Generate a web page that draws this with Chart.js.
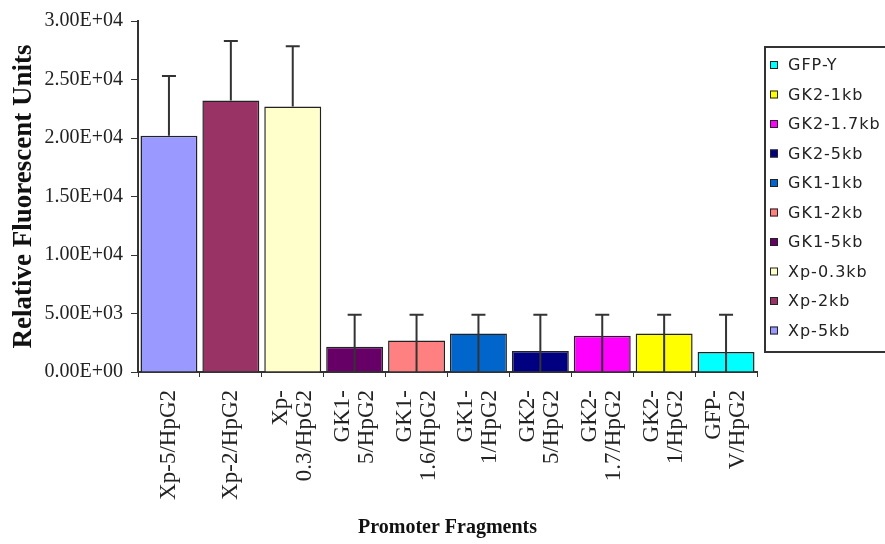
<!DOCTYPE html>
<html lang="en">
<head>
<meta charset="UTF-8">
<title>Promoter Fragments</title>
<script src="https://cdn.jsdelivr.net/npm/chart.js"></script>
<style>
  html, body { margin: 0; padding: 0; background: #fff; }
  #wrap { width: 885px; height: 544px; }
</style>
</head>
<body>
<div id="wrap"><canvas id="chart" width="885" height="544"></canvas></div>
<script>
// Data
const categories = [
    ['Xp-5/HpG2'], ['Xp-2/HpG2'], ['Xp-', '0.3/HpG2'], ['GK1-', '5/HpG2'], ['GK1-', '1.6/HpG2'],
    ['GK1-', '1/HpG2'], ['GK2-', '5/HpG2'], ['GK2-', '1.7/HpG2'], ['GK2-', '1/HpG2'], ['GFP-', 'V/HpG2']
];
const seriesNames = ['Xp-5kb', 'Xp-2kb', 'Xp-0.3kb', 'GK1-5kb', 'GK1-2kb', 'GK1-1kb', 'GK2-5kb', 'GK2-1.7kb', 'GK2-1kb', 'GFP-Y'];
const means = [20200, 23200, 22700, 2150, 2700, 3300, 1800, 3100, 3300, 1700];
const errPlus = [5100, 5100, 5150, 2750, 2200, 1600, 3100, 1800, 1600, 3200];
const errMinus = [0, 0, 0, 2150, 2700, 3300, 1800, 3100, 3300, 1700];
const yTicks = [0, 5000, 10000, 15000, 20000, 25000, 30000];

const barColors = ['#9999FF', '#993366', '#FFFFCC', '#660066', '#FF8080', '#0066CC', '#000080', '#FF00FF', '#FFFF00', '#00FFFF'];
const serif = '"Liberation Serif", "Times New Roman", serif';

// 3.00E+04 style
function sci(v) {
    if (v === 0) return '0.00E+00';
    const e = Math.floor(Math.log10(Math.abs(v)));
    const m = v / Math.pow(10, e);
    return m.toFixed(2) + 'E' + (e < 0 ? '-' : '+') + String(Math.abs(e)).padStart(2, '0');
}

// two-line rotated labels: centre the pair of lines on the tick
const centerLines = {
    id: 'centerLines',
    beforeDraw(chart) {
        const x = chart.scales.x;
        x.getLabelItems().forEach(it => {
            if (Array.isArray(it.label) && it.label.length > 1 && !it._moved) {
                it.options.translation[0] -= (it.label.length - 1) * 24 / 2;
                it._moved = true;
            }
        });
    }
};

// error bars drawn through the y scale
const errorBars = {
    id: 'errorBars',
    afterDatasetsDraw(chart) {
        const ctx = chart.ctx;
        const y = chart.scales.y;
        const meta = chart.getDatasetMeta(0);
        ctx.save();
        ctx.strokeStyle = '#333';
        ctx.lineWidth = 2;
        meta.data.forEach((bar, i) => {
            const top = y.getPixelForValue(means[i] + errPlus[i]);
            const low = y.getPixelForValue(Math.max(0, means[i] - errMinus[i]));
            ctx.beginPath();
            ctx.moveTo(bar.x, low);
            ctx.lineTo(bar.x, top);
            ctx.moveTo(bar.x - 7, top);
            ctx.lineTo(bar.x + 7, top);
            ctx.stroke();
        });
        ctx.restore();
    }
};

// boxed legend on the right, series listed in reverse
const boxLegend = {
    id: 'boxLegend',
    afterDraw(chart) {
        const ctx = chart.ctx;
        const left = 765, top = 47, bottom = 352, first = 65, step = 29.5;
        ctx.save();
        ctx.strokeStyle = '#333';
        ctx.lineWidth = 2;
        ctx.strokeRect(left, top, 140, bottom - top);
        ctx.font = '16px "DejaVu Sans", sans-serif';
        ctx.letterSpacing = '1px';
        ctx.textBaseline = 'middle';
        const names = seriesNames.slice().reverse();
        const cols = barColors.slice().reverse();
        names.forEach((n, i) => {
            const cy = first + i * step;
            ctx.fillStyle = cols[i];
            ctx.fillRect(770, cy - 4, 8, 8);
            ctx.lineWidth = 1;
            ctx.strokeStyle = '#222';
            ctx.strokeRect(770.5, cy - 3.5, 7, 7);
            ctx.fillStyle = '#222';
            ctx.fillText(n, 788, cy + 1);
        });
        ctx.restore();
    }
};

new Chart(document.getElementById('chart'), {
    type: 'bar',
    data: {
        labels: categories,
        datasets: [{
            data: means,
            backgroundColor: barColors,
            borderColor: '#222',
            borderWidth: 1.5,
            barPercentage: 0.92,
            categoryPercentage: 1
        }]
    },
    options: {
        responsive: false,
        animation: false,
        layout: { padding: { top: 21, right: 128, bottom: 0, left: 0 } },
        plugins: {
            legend: { display: false },
            tooltip: { enabled: false }
        },
        scales: {
            x: {
                afterFit(scale) { scale.height = 172; },
                grid: { drawOnChartArea: false, drawTicks: true, tickLength: 5, color: '#333', offset: true },
                border: { color: '#333', width: 2 },
                ticks: {
                    color: '#222',
                    font: { family: serif, size: 23, lineHeight: 24 / 23 },
                    minRotation: 90,
                    maxRotation: 90,
                    autoSkip: false,
                    padding: 13
                },
                title: {
                    display: true,
                    text: 'Promoter Fragments',
                    color: '#111',
                    font: { family: serif, size: 20, weight: 'bold' },
                    padding: { top: 0, bottom: 4 }
                }
            },
            y: {
                min: 0,
                max: 30000,
                afterFit(scale) { scale.width = 138; },
                afterBuildTicks(scale) { scale.ticks = yTicks.map(v => ({ value: v })); },
                grid: { drawOnChartArea: false, drawTicks: true, tickLength: 7, color: '#333' },
                border: { color: '#333', width: 2 },
                ticks: {
                    color: '#222',
                    font: { family: serif, size: 20 },
                    padding: 8,
                    callback: v => sci(v)
                },
                title: {
                    display: true,
                    text: 'Relative Fluorescent Units',
                    color: '#111',
                    font: { family: serif, size: 27, weight: 'bold' },
                    padding: { top: 8, bottom: 0 }
                }
            }
        }
    },
    plugins: [centerLines, errorBars, boxLegend]
});
</script>
</body>
</html>
